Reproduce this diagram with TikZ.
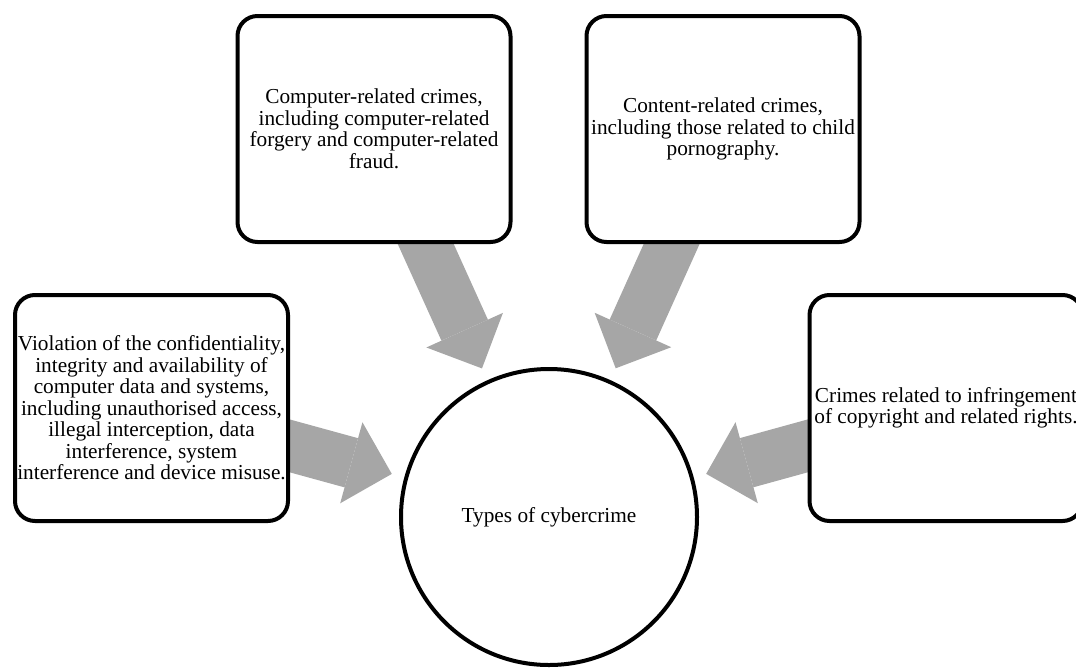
\documentclass[tikz,border=0pt]{standalone}
\usepackage{fontspec}
\setmainfont{Liberation Serif}
\usepackage{tikz}
\usetikzlibrary{arrows.meta, positioning, calc}
\pgfdeclarelayer{bg}
\pgfsetlayers{bg,main}
\definecolor{arrowgrey}{RGB}{166,166,166}

\begin{document}
\begin{tikzpicture}[x=1pt, y=-1pt,
    crimebox/.style={draw, line width=4pt, rounded corners=20pt, fill=white,
        minimum width=273pt, minimum height=226pt, inner sep=0pt, align=center,
        font=\fontsize{21.3}{21.5}\selectfont},
    hub/.style={draw, circle, line width=4pt, fill=white, minimum size=296pt,
        font=\fontsize{21.3}{21.5}\selectfont},
    bigarrow/.style={arrowgrey, line width=51pt,
        -{Triangle[length=42pt, width=84pt, line width=0pt]},
        shorten >=13pt, shorten <=-40pt}]
    \useasboundingbox (0,0) rectangle (1076,670);

    % types
    \node[crimebox] (cia) at (151.5, 408) {Violation of the confidentiality,\\
        integrity and availability of\\ computer data and systems,\\
        including unauthorised access,\\ illegal interception, data\\
        interference, system\\ interference and device misuse.};
    \node[crimebox] (comprel) at (374, 129) {Computer-related crimes,\\
        including computer-related\\ forgery and computer-related\\ fraud.};
    \node[crimebox] (contentrel) at (723, 129) {Content-related crimes,\\
        including those related to child\\ pornography.};
    \node[crimebox] (copyright) at (946, 408) {Crimes related to infringement\\
        of copyright and related rights.};

    % centre
    \node[hub] (types) at (549, 517) {Types of cybercrime};

    % arrows
    \begin{pgfonlayer}{bg}
    \draw[bigarrow] (cia) -- (types);
    \draw[bigarrow] (comprel) -- (types);
    \draw[bigarrow] (contentrel) -- (types);
    \draw[bigarrow] (copyright) -- (types);
    \end{pgfonlayer}
\end{tikzpicture}
\end{document}
